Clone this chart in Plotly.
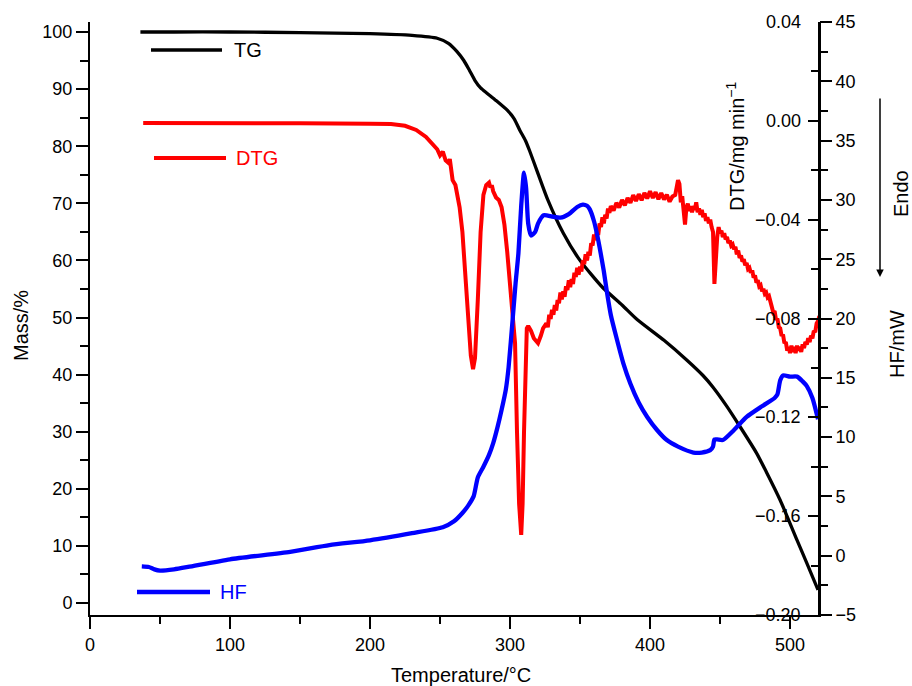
import plotly.graph_objects as go

# ---- thermogravimetric data -------------------------------------------------
# TG: residual mass (%) vs temperature (deg C)
tg_temp = [36, 60, 100, 150, 200, 230, 248, 256, 262, 267, 271, 275, 279, 284,
           290, 298, 303, 307, 311, 314, 320, 327, 338, 350, 366, 380, 391,
           410, 426, 438, 445, 455, 464, 476, 483, 493, 505, 512, 520]
tg_mass = [100.0, 100.0, 100.0, 99.9, 99.7, 99.4, 98.9, 98.0, 96.6, 95.0, 93.3,
           91.5, 90.2, 89.2, 88.0, 86.3, 84.8, 82.8, 81.0, 79.2, 75.2, 70.6,
           64.8, 60.0, 55.3, 52.2, 49.6, 46.0, 42.6, 39.8, 37.8, 34.4, 31.0,
           26.3, 23.0, 18.0, 11.0, 7.0, 2.3]

# DTG: mass-loss rate (mg/min) vs temperature, recorded in several stretches
dtg_temp_a = [38, 60, 100, 150, 200, 215, 225, 233, 240, 245, 248, 250, 252,
              254, 256, 257, 259, 261, 264, 266, 268, 270, 272, 273.6, 275, 277,
              279, 281, 283, 285, 286, 287, 288, 290, 292, 294, 296, 298, 300,
              302, 303.6, 305, 306.5, 308, 309, 310, 311, 312, 313, 315, 317,
              320, 322, 323.6]
dtg_rate_a = [-0.0009, -0.0010, -0.0008, -0.0010, -0.0012, -0.0013, -0.0020,
              -0.0037, -0.0065, -0.0095, -0.0115, -0.0140, -0.0125, -0.0160,
              -0.0170, -0.0155, -0.0240, -0.0260, -0.0350, -0.0450, -0.0600,
              -0.0800, -0.0950, -0.1005, -0.0960, -0.0725, -0.0450, -0.0300,
              -0.0260, -0.0250, -0.0270, -0.0260, -0.0285, -0.0310, -0.0320,
              -0.0350, -0.0420, -0.0530, -0.0650, -0.0780, -0.0900, -0.1260,
              -0.1550, -0.1676, -0.1550, -0.1260, -0.0950, -0.0840, -0.0830,
              -0.0850, -0.0880, -0.0900, -0.0870, -0.0840]
dtg_temp_b = list(range(326, 373))          # 1 degree steps
dtg_rate_b = [-0.0820, -0.0835, -0.0785, -0.0802, -0.0765, -0.0785, -0.0745,
              -0.0768, -0.0725, -0.0738,
              -0.0695, -0.0723, -0.0690, -0.0712, -0.0670, -0.0685, -0.0645,
              -0.0673, -0.0640, -0.0660,
              -0.0615, -0.0632, -0.0595, -0.0623, -0.0590, -0.0610, -0.0565,
              -0.0580, -0.0540, -0.0565,
              -0.0530, -0.0545, -0.0495, -0.0505, -0.0460, -0.0483, -0.0445,
              -0.0462, -0.0415, -0.0430,
              -0.0390, -0.0415, -0.0380, -0.0395, -0.0355, -0.0372, -0.0345]
dtg_temp_c = list(range(374, 417, 2))       # 2 degree steps
dtg_rate_c = [-0.0363, -0.0332, -0.0351, -0.0320, -0.0342, -0.0312, -0.0332,
              -0.0301, -0.0324, -0.0297,
              -0.0321, -0.0292, -0.0314, -0.0285, -0.0312, -0.0289, -0.0317,
              -0.0292, -0.0318, -0.0299,
              -0.0327, -0.0306]
dtg_temp_d = list(range(418, 522))          # 1 degree steps
dtg_rate_d = [-0.0300, -0.0270, -0.0240, -0.0255, -0.0330, -0.0305, -0.0360,
              -0.0420, -0.0350, -0.0335,
              -0.0365, -0.0345, -0.0370, -0.0345, -0.0360, -0.0330, -0.0370,
              -0.0355, -0.0380, -0.0360,
              -0.0390, -0.0375, -0.0405, -0.0390, -0.0415, -0.0400, -0.0430,
              -0.0450, -0.0660, -0.0530,
              -0.0470, -0.0430, -0.0455, -0.0445, -0.0470, -0.0455, -0.0480,
              -0.0470, -0.0495, -0.0485,
              -0.0505, -0.0500, -0.0520, -0.0510, -0.0540, -0.0525, -0.0555,
              -0.0545, -0.0570, -0.0560,
              -0.0585, -0.0575, -0.0600, -0.0595, -0.0615, -0.0605, -0.0635,
              -0.0625, -0.0655, -0.0645,
              -0.0670, -0.0665, -0.0690, -0.0680, -0.0700, -0.0695, -0.0715,
              -0.0710, -0.0735, -0.0745,
              -0.0775, -0.0770, -0.0805, -0.0800, -0.0835, -0.0840, -0.0870,
              -0.0865, -0.0900, -0.0895,
              -0.0930, -0.0915, -0.0940, -0.0910, -0.0935, -0.0915, -0.0940,
              -0.0910, -0.0930, -0.0915,
              -0.0935, -0.0905, -0.0920, -0.0895, -0.0905, -0.0880, -0.0895,
              -0.0870, -0.0880, -0.0850,
              -0.0855, -0.0820, -0.0810, -0.0790]
dtg_temp = dtg_temp_a + dtg_temp_b + dtg_temp_c + dtg_temp_d
dtg_rate = dtg_rate_a + dtg_rate_b + dtg_rate_c + dtg_rate_d

# HF: heat flow (mW) vs temperature
hf_temp = [37, 42, 46, 50, 60, 70, 100, 143, 171, 200, 230, 252, 260, 266, 270,
           274, 277, 281, 285, 288, 291, 294, 297, 299, 302, 304, 306, 308, 310,
           311.5, 313, 315, 318, 320, 324, 330, 336, 342, 348, 352, 355, 357,
           360, 362, 364, 367, 369, 372, 376, 381, 386, 392, 398, 405, 412, 420,
           431, 437, 443, 445, 446, 448, 452, 460, 469, 480, 489, 491, 493, 495,
           500, 505, 509, 512, 516, 520]
hf_flow = [-0.9, -0.95, -1.15, -1.25, -1.15, -0.95, -0.3, 0.33, 0.9, 1.3, 1.9,
           2.4, 2.9, 3.6, 4.2, 5.0, 6.6, 7.5, 8.5, 9.5, 10.8, 12.3, 14.0, 15.9,
           20.1, 23.0, 25.5, 29.5, 32.3, 31.0, 28.0, 27.0, 27.3, 28.0, 28.7,
           28.6, 28.5, 28.8, 29.4, 29.6, 29.5, 29.2, 28.2, 27.2, 26.0, 24.0,
           22.4, 20.3, 18.4, 16.2, 14.5, 12.9, 11.7, 10.6, 9.75, 9.2, 8.7, 8.7,
           8.9, 9.2, 9.8, 9.8, 9.75, 10.6, 11.7, 12.6, 13.3, 13.6, 14.8, 15.2,
           15.1, 15.1, 14.7, 14.3, 13.3, 11.5]

# axis ticks
x_ticks = [0, 100, 200, 300, 400, 500]
mass_ticks = [0, 10, 20, 30, 40, 50, 60, 70, 80, 90, 100]
dtg_ticks = [-0.20, -0.16, -0.12, -0.08, -0.04, 0.00, 0.04]
hf_ticks = [-5, 0, 5, 10, 15, 20, 25, 30, 35, 40, 45]

# ---- layout geometry (pixels) ----------------------------------------------
W, H = 912, 686
LEFT, RIGHT, TOP, BOTTOM = 90, 819, 22, 615
FONT = "Liberation Sans, Arial, Helvetica, sans-serif"


def fx(p):
    return (p - LEFT) / (RIGHT - LEFT)


def fy(p):
    return (BOTTOM - p) / (BOTTOM - TOP)


fig = go.Figure()
fig.add_trace(go.Scatter(x=dtg_temp, y=dtg_rate, yaxis="y2", mode="lines",
                         line=dict(color="#ff0000", width=4), name="DTG"))
fig.add_trace(go.Scatter(x=hf_temp, y=hf_flow, yaxis="y3", mode="lines",
                         line=dict(color="#0000ff", width=4.3, shape="spline",
                                   smoothing=0.6), name="HF"))
fig.add_trace(go.Scatter(x=tg_temp, y=tg_mass, yaxis="y", mode="lines",
                         line=dict(color="#000000", width=3.3, shape="spline",
                                   smoothing=0.6), name="TG"))

axis_common = dict(showgrid=False, zeroline=False, showline=True,
                   linecolor="black", linewidth=2, tickcolor="black",
                   tickwidth=2, tickfont=dict(family=FONT, size=18, color="black"),
                   automargin=False)

fig.update_layout(
    width=W, height=H, autosize=False,
    margin=dict(l=LEFT, r=W - RIGHT, t=TOP, b=H - BOTTOM, pad=0),
    paper_bgcolor="white", plot_bgcolor="white",
    showlegend=False,
    font=dict(family=FONT, size=18, color="black"),
    xaxis=dict(range=[0, 520.7], tickvals=x_ticks, ticks="outside", ticklen=12,
               minor=dict(dtick=50, ticks="outside", ticklen=7, tickwidth=2,
                          tickcolor="black"),
               **axis_common),
    yaxis=dict(range=[-2.1, 101.75], tickvals=mass_ticks, ticks="outside",
               ticklen=12,
               minor=dict(dtick=5, ticks="outside", ticklen=8, tickwidth=2,
                          tickcolor="black"),
               **axis_common),
    # DTG axis: ticks point into the plot; its labels are drawn as annotations
    yaxis2=dict(range=[-0.20, 0.04], tickvals=dtg_ticks, showticklabels=False,
                overlaying="y", side="right", anchor="x", ticks="inside",
                ticklen=11,
                minor=dict(dtick=0.02, ticks="inside", ticklen=8, tickwidth=2,
                           tickcolor="black"),
                **axis_common),
    yaxis3=dict(range=[-5, 45], tickvals=hf_ticks, overlaying="y", side="right",
                anchor="free", position=1, ticks="outside", ticklen=12,
                minor=dict(dtick=2.5, ticks="outside", ticklen=8, tickwidth=2,
                           tickcolor="black"),
                **axis_common),
)

annotations = []
shapes = []

# DTG tick labels, placed just left of the inward ticks
for v in dtg_ticks:
    annotations.append(dict(text=f"{v:.2f}".replace("-", "−"), xref="paper",
                            yref="y2", x=fx(803), y=v, xanchor="right",
                            yanchor="middle", showarrow=False,
                            font=dict(family=FONT, size=18, color="black")))

# inline legend swatches
swatches = [
    (151, 222, 50, "#000000", 3.3, "TG", 232),
    (154, 226, 158, "#ff0000", 4, "DTG", 234),
    (137, 210, 592, "#0000ff", 4.3, "HF", 218),
]
for x0, x1, yy, col, wd, label, tx in swatches:
    shapes.append(dict(type="line", xref="paper", yref="paper",
                       x0=fx(x0), x1=fx(x1), y0=fy(yy), y1=fy(yy),
                       line=dict(color=col, width=wd)))
    annotations.append(dict(text=label, xref="paper", yref="paper",
                            x=fx(tx), y=fy(yy), xanchor="left", yanchor="middle",
                            showarrow=False,
                            font=dict(family=FONT, size=20, color=col)))

# axis titles and side labels
titles = [
    ("Temperature/°C", 461, 675, 0),
    ("Mass/%", 21, 326, -90),
    ("DTG/mg min<sup>−1</sup>", 735, 146, -90),
    ("HF/mW", 897, 344, -90),
    ("Endo", 901, 194, -90),
]
for text, xx, yy, ang in titles:
    annotations.append(dict(text=text, xref="paper", yref="paper",
                            x=fx(xx), y=fy(yy), xanchor="center",
                            yanchor="middle", textangle=ang, showarrow=False,
                            font=dict(family=FONT, size=20, color="black")))

# endothermic direction arrow
annotations.append(dict(text="", xref="paper", yref="paper",
                        x=fx(880), y=fy(277), ax=0, ay=-180,
                        showarrow=True, arrowhead=2, arrowsize=1,
                        arrowwidth=1.5, arrowcolor="black"))

fig.update_layout(shapes=shapes, annotations=annotations)

fig.write_html("out.html")
